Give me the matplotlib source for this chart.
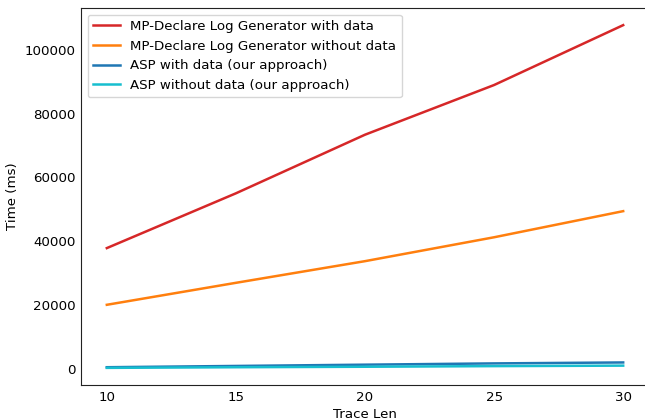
import matplotlib
matplotlib.use("Agg")
import matplotlib.pyplot as plt

trace_len = [10, 15, 20, 25, 30]
mp_with = [37800, 55000, 73400, 89000, 107800]
mp_without = [20000, 26900, 33700, 41200, 49400]
asp_with = [400, 800, 1200, 1600, 1900]
asp_without = [200, 400, 550, 750, 900]

labels = ["MP-Declare Log Generator with data",
          "MP-Declare Log Generator without data",
          "ASP with data (our approach)",
          "ASP without data (our approach)"]
colors = ["#d62728", "#ff7f0e", "#1f77b4", "#17becf"]

fig = plt.figure(figsize=(6.45, 4.2), dpi=100)
W, H = 645, 420
left, right, top, bottom = 81, 649, 8, 385
ax = fig.add_axes([left / W, 1 - bottom / H, (right - left) / W, (bottom - top) / H])

for ys, lab, c in zip([mp_with, mp_without, asp_with, asp_without], labels, colors):
    ax.plot(trace_len, ys, color=c, label=lab, linewidth=1.8)

fs = 9.6
ax.set_xticks([10, 15, 20, 25, 30])
ax.set_yticks([0, 20000, 40000, 60000, 80000, 100000])
ax.tick_params(length=0, labelsize=fs, pad=4)
ax.set_xlabel("Trace Len", fontsize=fs, labelpad=3)
ax.set_ylabel("Time (ms)", fontsize=fs, labelpad=4)
ax.spines["right"].set_visible(False)
for s in ax.spines.values():
    s.set_color("#222222")
ax.legend(loc="upper left", fontsize=fs, handlelength=2.0, borderpad=0.4,
          labelspacing=0.5)

fig.savefig("out.png", dpi=100)
